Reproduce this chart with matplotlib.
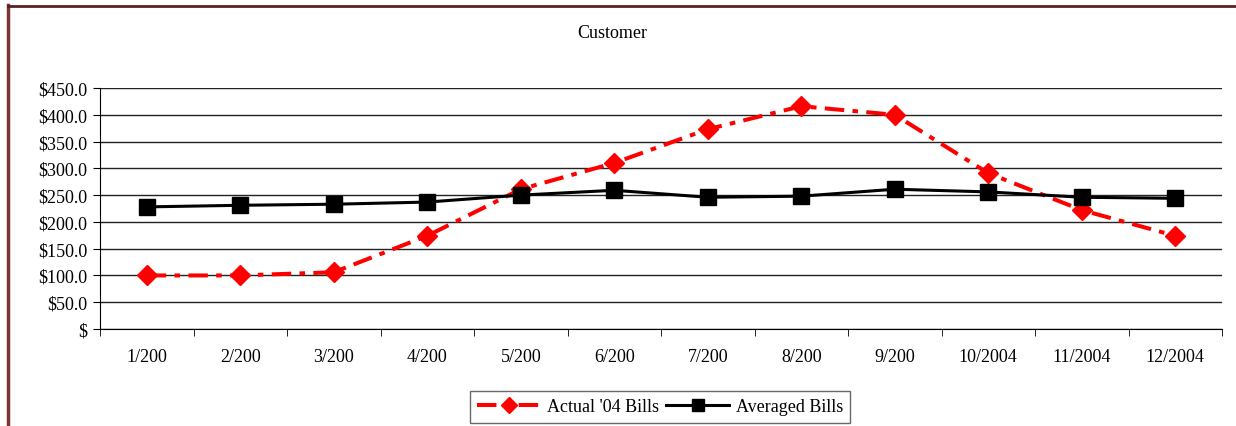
import matplotlib.pyplot as plt
from matplotlib.lines import Line2D

months = ["1/200", "2/200", "3/200", "4/200", "5/200", "6/200",
          "7/200", "8/200", "9/200", "10/2004", "11/2004", "12/2004"]
actual = [100, 100, 106, 174, 261, 310, 373, 416, 400, 291, 222, 174]
averaged = [228, 231, 233, 237, 250, 259, 246, 248, 261, 256, 246, 244]
yticks = [0, 50, 100, 150, 200, 250, 300, 350, 400, 450]
ylabels = ["$"] + ["$%.1f" % v for v in yticks[1:]]

plt.rcParams["font.family"] = ["Liberation Serif", "DejaVu Serif"]
plt.rcParams["lines.scale_dashes"] = False
fs = 13

fig = plt.figure(figsize=(12.36, 4.27), dpi=100)
ax = fig.add_axes([100/1236, 1-330/427, 1122/1236, 241/427])

x = list(range(len(months)))
ax.plot(x, actual, color="#ff0000", lw=2.9, dashes=(14, 6, 4, 6),
        marker="D", ms=10, mec="#ff0000", mfc="#ff0000",
        label="Actual '04 Bills", zorder=3)
ax.plot(x, averaged, color="black", lw=2.2, marker="s", ms=11,
        label="Averaged Bills", zorder=4)

ax.set_xlim(-0.5, 11.5)
ax.set_ylim(0, 450)
ax.set_yticks(yticks)
ax.set_yticklabels(ylabels, fontsize=fs)
ax.set_xticks(x)
ax.set_xticklabels(months, fontsize=fs)
ax.set_xticks([i - 0.5 for i in range(13)], minor=True)
ax.tick_params(axis="x", which="major", length=0, pad=14)
ax.tick_params(axis="x", which="minor", length=5, direction="out")
ax.tick_params(axis="y", length=5, direction="out", pad=4)
ax.grid(axis="y", color="#222222", lw=1)
ax.set_axisbelow(True)
for s in ["top", "right"]:
    ax.spines[s].set_visible(False)
for s in ["left", "bottom"]:
    ax.spines[s].set_color("black")

fig.text(612/1236, 1-33/427, "Customer", ha="center", va="center", fontsize=fs)

leg = fig.legend(loc="center", bbox_to_anchor=(660/1236, 1-408/427), ncol=2,
                 fontsize=fs, frameon=True, fancybox=False, handlelength=3.5,
                 columnspacing=0.4, handletextpad=0.35, borderpad=0.4,
                 markerscale=0.8)
leg.get_frame().set_edgecolor("#444444")
leg.get_frame().set_linewidth(1)

# outer frame (left and top edges visible)
fig.add_artist(Line2D([7.5/1236, 7.5/1236], [0, 1-6/427], transform=fig.transFigure,
                      color="#7b3535", lw=2.5))
fig.add_artist(Line2D([7.5/1236, 1], [1-6.5/427, 1-6.5/427], transform=fig.transFigure,
                      color="#5a2222", lw=2))

fig.savefig("out.png", dpi=100)
